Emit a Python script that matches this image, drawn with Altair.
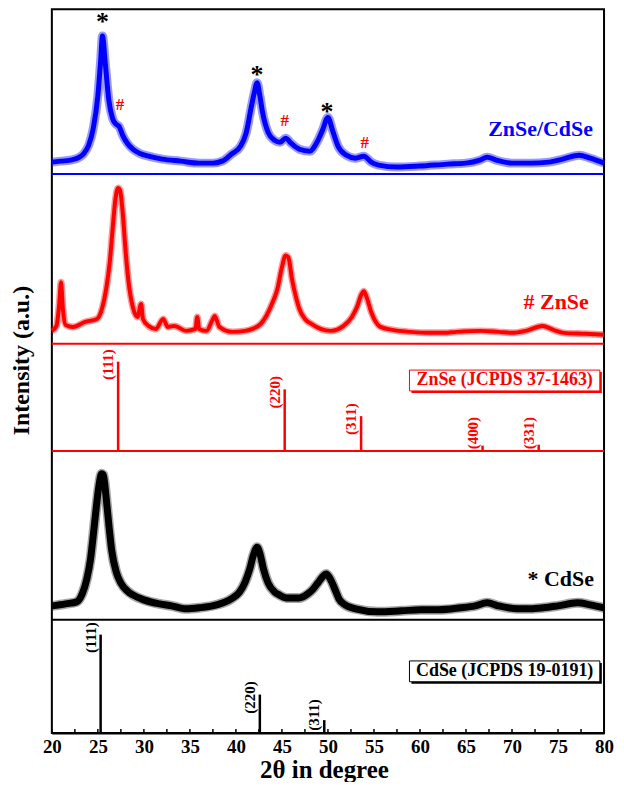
import altair as alt
import pandas as pd

# ---------------- data ----------------
# ZnSe/CdSe composite (blue), intensity in a.u. above its baseline
cs_theta = [20, 21, 22, 23, 23.5, 24, 24.5, 25, 25.3, 25.5,
            25.8, 26.2, 26.6, 27.0, 27.3, 27.7, 28.2, 28.8, 29.5, 30.5,
            32, 34, 36, 37.5, 38.5, 39.5, 40.5, 41.1, 41.7, 42.0,
            42.3, 42.6, 42.9, 43.5, 44.2, 44.8, 45.4, 46.0, 46.9, 48.0,
            48.8, 49.4, 50.0, 50.5, 51.1, 52.0, 53.0, 53.9, 54.7, 55.5,
            57.5, 60, 63, 65, 66.5, 67.3, 68.3, 70, 72, 74,
            75.5, 77.3, 78.5, 80]
cs_int = [12, 13, 14, 17, 21, 29, 46, 79, 114, 139,
          112, 74, 56, 50, 48, 39, 31, 25, 21, 18,
          15, 13, 11, 11, 13, 20, 28, 41, 69, 82,
          92, 79, 62, 42, 34, 32, 36, 31, 25, 23,
          32, 44, 57, 44, 28, 19, 16, 18, 12, 9,
          7, 8, 10, 11, 14, 17, 14, 11, 11, 12,
          15, 19, 16, 11]

# ZnSe sample (red)
zn_theta = [20.0, 20.5, 20.8, 21.0, 21.2, 21.5, 22.3, 23.6, 24.9, 25.5,
            25.9, 26.3, 26.6, 26.9, 27.2, 27.4, 27.7, 28.0, 28.3, 28.8,
            29.3, 29.7, 29.9, 30.5, 31.3, 32.1, 32.6, 33.3, 34.6, 35.6,
            35.8, 36.0, 36.8, 37.5, 37.7, 38.2, 39.6, 41, 41.8, 42.7,
            43.3, 44.0, 44.5, 45.0, 45.4, 45.7, 46.1, 46.5, 46.9, 47.5,
            48.2, 49.2, 50.3, 51.7, 52.6, 53.2, 53.6, 53.9, 54.2, 54.7,
            55.2, 55.7, 57, 59, 61, 62.6, 64, 66.6, 68.5, 70,
            71.5, 73.3, 74.5, 75.6, 78, 80]
zn_int = [13, 18, 40, 62, 35, 19, 17, 22, 25, 37,
          55, 83, 115, 145, 157, 155, 132, 95, 65, 37,
          27, 40, 25, 18, 15, 25, 17, 18, 13, 15,
          27, 15, 13, 25, 28, 17, 12, 13, 15, 20,
          28, 42, 55, 77, 89, 87, 65, 48, 35, 25,
          20, 15, 13, 18, 27, 38, 49, 53, 47, 32,
          22, 17, 14, 12, 11, 11, 12, 13, 12, 11,
          13, 18, 14, 11, 10, 9]

# CdSe sample (black)
cd_theta = [20.0, 21.5, 22.7, 23.3, 23.8, 24.2, 24.5, 24.8, 25.1, 25.4,
            25.6, 25.9, 26.2, 26.5, 27.0, 27.5, 28.2, 28.8, 30, 31.7,
            33, 34.6, 36, 37.9, 39.5, 40.4, 41.0, 41.5, 41.9, 42.3,
            42.6, 43.0, 43.5, 44.2, 44.7, 45.5, 46.9, 47.8, 48.4, 48.9,
            49.4, 49.8, 50.2, 50.7, 51.2, 51.7, 53, 55.4, 58, 60.1,
            62, 64.4, 66, 67.3, 68.5, 70.6, 72, 73.4, 75, 77.1,
            78.5, 80]
cd_int = [14, 16, 18, 26, 41, 61, 85, 111, 134, 147,
          146, 123, 95, 70, 48, 37, 29, 25, 20, 16,
          14, 11, 12, 15, 21, 28, 38, 51, 65, 73,
          67, 51, 37, 28, 25, 22, 22, 26, 31, 37,
          43, 46, 42, 32, 21, 16, 11, 8, 9, 10,
          10, 12, 14, 17, 14, 11, 11, 12, 14, 17,
          15, 12]

# Reference patterns
zns_ref_theta = [27.2, 45.3, 53.6, 66.8, 72.9]
zns_ref_int = [100, 69, 39, 6, 7]
zns_ref_hkl = ["(111)", "(220)", "(311)", "(400)", "(331)"]

cds_ref_theta = [25.3, 42.6, 49.6]
cds_ref_int = [100, 39, 13]
cds_ref_hkl = ["(111)", "(220)", "(311)"]

# Peak markers on the composite pattern
mark_symbol = ["*", "#", "*", "#", "*", "#"]
mark_theta = [25.5, 27.4, 42.3, 45.3, 49.9, 54.0]
mark_int = [158, 70, 105, 53, 68, 31]

tick_major = [20, 25, 30, 35, 40, 45, 50, 55, 60, 65, 70, 75, 80]
tick_minor = [22.5, 27.5, 32.5, 37.5, 42.5, 47.5, 52.5, 57.5, 62.5, 67.5, 72.5, 77.5]

# ---------------- layout ----------------
W, H = 554, 726
YMAX = 729
PX_PER_DEG = W / 60.0
OFF_CS, OFF_ZN, OFF_ZNREF, OFF_CD, OFF_CDREF = 563, 392, 284, 114, 0
BLUE, RED, BLACK = "#0000ff", "#ff0000", "#000000"
FONT = "Times New Roman, Liberation Serif, DejaVu Serif, serif"

xs = alt.Scale(domain=[20, 80], nice=False, zero=False)
ys = alt.Scale(domain=[0, YMAX], nice=False, zero=False)

xaxis = alt.Axis(values=tick_major, title="2θ in degree", titleFont=FONT, titleFontSize=25,
                 titleFontWeight="bold", titleColor=BLACK, titleX=273, titleY=37,
                 titleBaseline="middle", titleAlign="center",
                 labelFont=FONT, labelFontSize=19, labelFontWeight="bold", labelColor=BLACK,
                 labelPadding=5, labelFlush=False, labelOverlap=False, labelBound=False,
                 ticks=False, grid=False, domain=True, domainColor=BLACK, domainWidth=2)
yaxis = alt.Axis(title="Intensity (a.u.)", titleFont=FONT, titleFontSize=24, titleFontWeight="bold",
                 titleColor=BLACK, titleX=-30, titleY=352, titleAngle=270, titleBaseline="middle",
                 titleAlign="center", labels=False, ticks=False, grid=False, domain=False)


def X(field):
    return alt.X(field, type="quantitative", scale=xs, axis=xaxis)


def Y(field):
    return alt.Y(field, type="quantitative", scale=ys, axis=yaxis)


def curve_df(theta, inten, off):
    return pd.DataFrame({"theta": theta, "v": [off + i for i in inten]})


layers = []

# separators / baselines
sep = pd.DataFrame({"v": [OFF_CS, OFF_ZN, OFF_ZNREF, OFF_CD],
                    "c": [BLUE, RED, RED, BLACK]})
layers.append(alt.Chart(sep).mark_rule(strokeWidth=2).encode(
    x=alt.value(0), x2=alt.value(W), y=Y("v"), color=alt.Color("c:N", scale=None)))

# inward ticks
ticks = pd.DataFrame({"t": tick_major + tick_minor})
layers.append(alt.Chart(ticks).mark_rule(color=BLACK, strokeWidth=1.5).encode(
    x=X("t"), y=alt.value(H), y2=alt.value(H - 4)))


def curve(df, color, w_out, w_in, op):
    base = alt.Chart(df).encode(x=X("theta"), y=Y("v"), order="theta:Q")
    return [base.mark_line(color=color, strokeWidth=w_out, opacity=op, interpolate="monotone",
                           strokeJoin="round"),
            base.mark_line(color=color, strokeWidth=w_in, interpolate="monotone", strokeJoin="round")]


layers += curve(curve_df(cs_theta, cs_int, OFF_CS), BLUE, 9, 5, 0.4)
layers += curve(curve_df(zn_theta, zn_int, OFF_ZN), RED, 7, 4, 0.4)
layers += curve(curve_df(cd_theta, cd_int, OFF_CD), BLACK, 10, 7, 0.35)


# reference sticks
def sticks(theta, inten, hkl, off, scale, color):
    h = [i * scale for i in inten]
    df = pd.DataFrame({"theta": theta, "y0": [off] * len(theta), "y1": [off + v for v in h],
                       "lt": [t - 10 / PX_PER_DEG for t in theta],
                       "ly": [off + max(v - 3, 18) for v in h], "hkl": hkl})
    r = alt.Chart(df).mark_rule(color=color, strokeWidth=2.5).encode(x=X("theta"), y=Y("y0"), y2="y1")
    t = alt.Chart(df).mark_text(color=color, font=FONT, fontSize=15, fontWeight="bold", angle=270,
                                align="center", baseline="middle").encode(x=X("lt"), y=Y("ly"), text="hkl")
    return [r, t]


layers += sticks(zns_ref_theta, zns_ref_int, zns_ref_hkl, OFF_ZNREF, 0.9, RED)
layers += sticks(cds_ref_theta, cds_ref_int, cds_ref_hkl, OFF_CDREF, 0.99, BLACK)


# boxed reference labels
def boxed(label, theta, v, color, half_w_px=95.5, half_h=10.5):
    hw = half_w_px / PX_PER_DEG
    sh = 2.0 / PX_PER_DEG
    df = pd.DataFrame({"x0": [theta - hw], "x1": [theta + hw], "y0": [v - half_h], "y1": [v + half_h],
                       "sx0": [theta - hw + sh], "sx1": [theta + hw + sh],
                       "sy0": [v - half_h - 2], "sy1": [v + half_h - 2],
                       "tx": [theta], "ty": [v], "lab": [label]})
    shadow = alt.Chart(df).mark_rect(color=color).encode(x=X("sx0"), x2="sx1", y=Y("sy0"), y2="sy1")
    box = alt.Chart(df).mark_rect(fill="white", stroke=color, strokeWidth=1).encode(
        x=X("x0"), x2="x1", y=Y("y0"), y2="y1")
    txt = alt.Chart(df).mark_text(color=color, font=FONT, fontSize=18, fontWeight="bold",
                                  align="center", baseline="middle").encode(x=X("tx"), y=Y("ty"), text="lab")
    return [shadow, box, txt]


layers += boxed("ZnSe (JCPDS 37-1463)", 69.2, 355, RED)
layers += boxed("CdSe (JCPDS 19-0191)", 69.2, 62, BLACK)

# sample labels
samp = pd.DataFrame({"lab": ["ZnSe/CdSe", "# ZnSe", "* CdSe"],
                     "tx": [73.1, 74.8, 75.3], "ty": [608, 434, 155],
                     "c": [BLUE, RED, BLACK]})
layers.append(alt.Chart(samp).mark_text(font=FONT, fontSize=22, fontWeight="bold", align="center",
                                        baseline="middle").encode(
    x=X("tx"), y=Y("ty"), text="lab", color=alt.Color("c:N", scale=None)))

# peak markers
mk = pd.DataFrame({"s": mark_symbol, "theta": mark_theta, "v": [OFF_CS + i for i in mark_int]})
layers.append(alt.Chart(mk).transform_filter(alt.datum.s == "*").mark_text(
    font=FONT, fontSize=26, fontWeight="bold", color=BLACK, align="center", baseline="middle", dy=5).encode(
    x=X("theta"), y=Y("v"), text="s"))
layers.append(alt.Chart(mk).transform_filter(alt.datum.s == "#").mark_text(
    font=FONT, fontSize=17, fontWeight="bold", color=RED, align="center", baseline="middle").encode(
    x=X("theta"), y=Y("v"), text="s"))

chart = alt.layer(*layers).properties(
    width=W, height=H,
    autosize=alt.AutoSizeParams(type="none"),
    padding={"left": 44, "top": 0, "right": 12, "bottom": 48},
    background="white",
).configure_view(stroke=BLACK, strokeWidth=2)

chart.save("out.html", embed_options={"renderer": "svg", "actions": False})
